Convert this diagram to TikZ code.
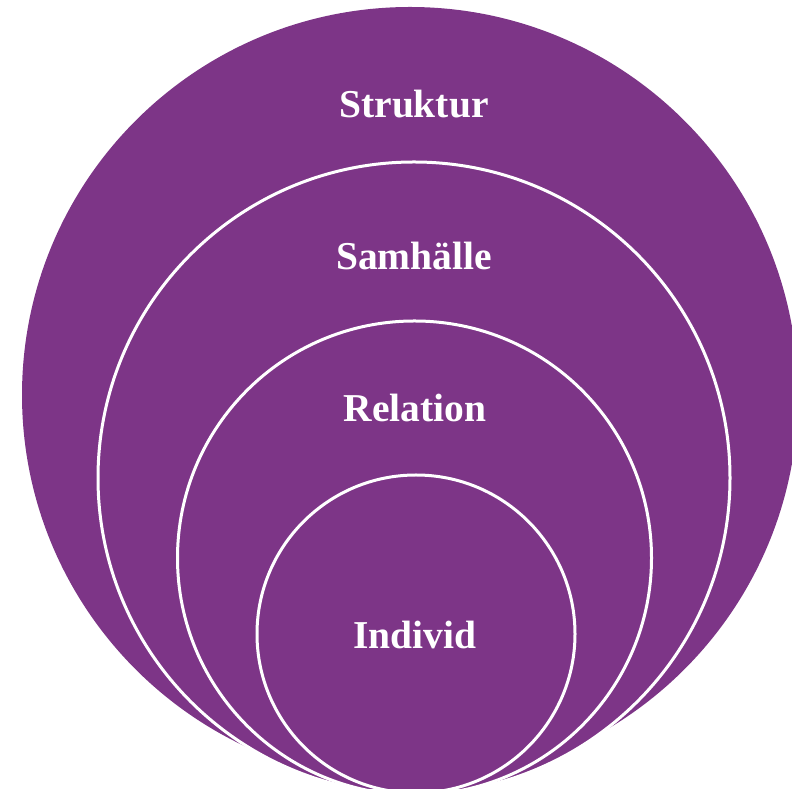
\documentclass[tikz,border=0pt]{standalone}
\usepackage{fontspec}
\newfontfamily\lblfont{Liberation Serif}
\definecolor{ringpurple}{HTML}{7D3587}
\tikzset{
  ring/.style={fill=ringpurple, draw=white, line width=3pt},
  outerring/.style={fill=ringpurple},
  lbl/.style={text=white, anchor=base, inner sep=0pt, font=\lblfont\bfseries\fontsize{39.5}{46}\selectfont}
}
\begin{document}
\begin{tikzpicture}[x=1pt,y=1pt]
  \useasboundingbox (0,0) rectangle (792,789);
  \clip (0,0) rectangle (792,789);
  \fill[outerring] (410,394) circle (388);
  \draw[ring] (414,311) circle (316);
  \draw[ring] (414.5,231) circle (237);
  \draw[ring] (416,155) circle (159);
  \node[lbl] (struktur) at (414,671) {Struktur};
  \node[lbl] (samhalle) at (414,519) {Samhälle};
  \node[lbl] (relation) at (415,367) {Relation};
  \node[lbl] (individ) at (415,140) {Individ};
\end{tikzpicture}
\end{document}
